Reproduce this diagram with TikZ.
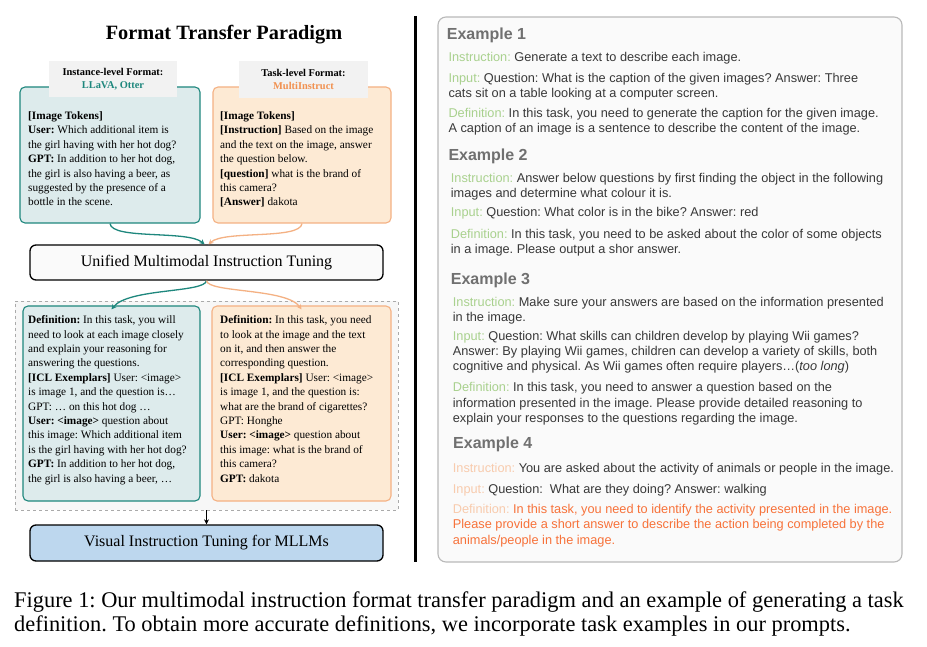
\documentclass[tikz,border=0pt]{standalone}
\usepackage{fontspec}
\setmainfont{Liberation Serif}
\newfontfamily\arialf{Liberation Sans}
\usetikzlibrary{arrows.meta}
\frenchspacing
\definecolor{tealc}{RGB}{30,135,125}
\definecolor{tealfill}{RGB}{221,235,236}
\definecolor{orgc}{RGB}{244,177,131}
\definecolor{orgfill}{RGB}{253,234,212}
\definecolor{orgtext}{RGB}{241,145,80}
\definecolor{headgray}{RGB}{242,242,242}
\definecolor{bluefill}{RGB}{189,215,238}
\definecolor{unifill}{RGB}{250,250,250}
\definecolor{dashgray}{RGB}{170,170,170}
\definecolor{dashfill}{RGB}{247,247,247}
\definecolor{panelc}{RGB}{185,185,185}
\definecolor{panelfill}{RGB}{250,250,250}
\definecolor{headc}{RGB}{112,112,112}
\definecolor{bodyc}{RGB}{56,56,56}
\definecolor{lgreen}{RGB}{169,209,142}
\definecolor{peach}{RGB}{248,203,173}
\definecolor{defor}{RGB}{247,114,58}
\newcommand\labg[1]{\textcolor{lgreen}{#1}}
\newcommand\labp[1]{\textcolor{peach}{#1}}
\begin{document}
\begin{tikzpicture}[x=1pt,y=-1pt,
  tealbox/.style={draw=tealc,fill=tealfill,line width=1.1pt,rounded corners=5pt,inner sep=0pt},
  orgbox/.style={draw=orgc,fill=orgfill,line width=1.1pt,rounded corners=5pt,inner sep=0pt},
  headbox/.style={fill=headgray,inner sep=0pt,align=center,font=\fontsize{10.4}{13.5}\selectfont\bfseries},
  bigbox/.style={draw=black,line width=1.3pt,rounded corners=6pt,inner sep=0pt,font=\fontsize{16}{18}\selectfont},
  ltxt/.style={anchor=north west,inner sep=0pt,align=left,font=\fontsize{11.3}{14.4}\selectfont},
  rtxt/.style={anchor=base west,inner sep=0pt,text=bodyc,font=\arialf\fontsize{12.75}{14}\selectfont},
  rhead/.style={anchor=base west,inner sep=0pt,text=headc,font=\arialf\bfseries\fontsize{16}{18}\selectfont},
  captxt/.style={anchor=base west,inner sep=0pt,font=\fontsize{22.4}{24}\selectfont},
  tealarr/.style={draw=tealc,line width=1.3pt,-{Stealth[length=5pt,width=5pt]}},
  orgarr/.style={draw=orgc,line width=1.3pt,-{Stealth[length=5pt,width=5pt]}},
  blkarr/.style={draw=black,line width=1pt,-{Stealth[length=5pt,width=5pt]}}]
\useasboundingbox (0,0) rectangle (927,647);
\fill[white] (0,0) rectangle (927,647);

% ---------- left side ----------
\node[font=\fontsize{20.3}{22}\selectfont\bfseries] (title) at (224,35) {Format Transfer Paradigm};

\node[tealbox,minimum width=180pt,minimum height=136pt] (tb1) at (110,155) {};
\node[orgbox,minimum width=178pt,minimum height=136pt] (ob1) at (302,155) {};
\node[headbox,minimum width=128pt,minimum height=36pt] (h1) at (113,79) {Instance-level Format:\\\textcolor{tealc}{LLaVA, Otter}};
\node[headbox,minimum width=129pt,minimum height=37pt] (h2) at (303.5,79.5) {Task-level Format:\\\textcolor{orgtext}{MultiInstruct}};

\node[ltxt] (t1) at (28,111.5) {\textbf{[Image Tokens]}\\
\textbf{User:} Which additional item is\\
the girl having with her hot dog?\\
\textbf{GPT:} In addition to her hot dog,\\
the girl is also having a beer, as\\
suggested by the presence of a\\
bottle in the scene.};

\node[ltxt] (t2) at (220,111.5) {\textbf{[Image Tokens]}\\
\textbf{[Instruction]} Based on the image\\
and the text on the image, answer\\
the question below.\\
\textbf{[question]} what is the brand of\\
this camera?\\
\textbf{[Answer]} dakota};

\node[bigbox,fill=unifill,minimum width=353pt,minimum height=35pt] (uni) at (206.5,262.5) {Unified Multimodal Instruction Tuning};

\draw[tealarr] (tb1.south) .. controls (112,240) and (188,230) .. ([xshift=-2pt]uni.north);
\draw[orgarr] (ob1.south) .. controls (300,240) and (224,230) .. ([xshift=2pt]uni.north);

\node[draw=dashgray,dashed,fill=dashfill,line width=0.8pt,minimum width=383pt,minimum height=209pt,inner sep=0pt] (dash) at (206.5,405.5) {};
\node[tealbox,minimum width=177pt,minimum height=195pt] (tb2) at (111.5,403.5) {};
\node[orgbox,minimum width=179pt,minimum height=195pt] (ob2) at (301.5,403.5) {};

\coordinate (tb2in) at ([yshift=-4pt]tb2.north);
\coordinate (ob2in) at ([yshift=-4pt]ob2.north);
\draw[tealarr] (uni.south) .. controls (205,293) and (128,288) .. (tb2in);
\draw[orgarr] (uni.south) .. controls (208,293) and (287,288) .. (ob2in);

\node[ltxt] (t3) at (28,315.5) {\textbf{Definition:} In this task, you will\\
need to look at each image closely\\
and explain your reasoning for\\
answering the questions.\\
\textbf{[ICL Exemplars]} User: <image>\\
is image 1, and the question is…\\
GPT: … on this hot dog …\\
\textbf{User: <image>} question about\\
this image: Which additional item\\
is the girl having with her hot dog?\\
\textbf{GPT:} In addition to her hot dog,\\
the girl is also having a beer, …};

\node[ltxt] (t4) at (220,315.5) {\textbf{Definition:} In this task, you need\\
to look at the image and the text\\
on it, and then answer the\\
corresponding question.\\
\textbf{[ICL Exemplars]} User: <image>\\
is image 1, and the question is:\\
what are the brand of cigarettes?\\
GPT: Honghe\\
\textbf{User: <image>} question about\\
this image: what is the brand of\\
this camera?\\
\textbf{GPT:} dakota};

\node[bigbox,fill=bluefill,minimum width=353pt,minimum height=36pt] (vis) at (206.5,543) {Visual Instruction Tuning for MLLMs};
\draw[blkarr] (dash.south) -- (vis.north);

% divider
\coordinate (divtop) at (415,16);
\coordinate (divbot) at (415,562);
\draw[line width=3pt] (divtop) -- (divbot);

% ---------- right panel ----------
\node[draw=panelc,fill=panelfill,line width=1.1pt,rounded corners=8pt,minimum width=464pt,minimum height=545pt,inner sep=0pt] (panel) at (670,289.5) {};

\node[rhead] (e1) at (446.7,39.5) {Example 1};
\node[rtxt] (e1a) at (448.3,61.5) {\labg{Instruction:} Generate a text to describe each image.};
\node[rtxt] (e1b) at (448.3,82.5) {\labg{Input:} Question: What is the caption of the given images? Answer: Three};
\node[rtxt] (e1c) at (448.3,97.5) {cats sit on a table looking at a computer screen.};
\node[rtxt] (e1d) at (448.3,117.5) {\labg{Definition:} In this task, you need to generate the caption for the given image.};
\node[rtxt] (e1e) at (448.3,132.5) {A caption of an image is a sentence to describe the content of the image.};

\node[rhead] (e2) at (448.3,160.5) {Example 2};
\node[rtxt] (e2a) at (450.7,182.5) {\labg{Instruction:} Answer below questions by first finding the object in the following};
\node[rtxt] (e2b) at (450.7,197.5) {images and determine what colour it is.};
\node[rtxt] (e2c) at (450.7,216.5) {\labg{Input:} Question: What color is in the bike? Answer: red};
\node[rtxt] (e2d) at (450.7,238.5) {\labg{Definition:} In this task, you need to be asked about the color of some objects};
\node[rtxt] (e2e) at (450.7,253.5) {in a image. Please output a shor answer.};

\node[rhead] (e3) at (450.7,284) {Example 3};
\node[rtxt] (e3a) at (452.7,306) {\labg{Instruction:} Make sure your answers are based on the information presented};
\node[rtxt] (e3b) at (452.7,321) {in the image.};
\node[rtxt] (e3c) at (452.7,340) {\labg{Input:} Question: What skills can children develop by playing Wii games?};
\node[rtxt] (e3d) at (452.7,355) {Answer: By playing Wii games, children can develop a variety of skills, both};
\node[rtxt] (e3e) at (452.7,370) {cognitive and physical. As Wii games often require players…(\textit{too long})};
\node[rtxt] (e3f) at (452.7,391) {\labg{Definition:} In this task, you need to answer a question based on the};
\node[rtxt] (e3g) at (452.7,407) {information presented in the image. Please provide detailed reasoning to};
\node[rtxt] (e3h) at (452.7,422) {explain your responses to the questions regarding the image.};

\node[rhead] (e4) at (453,448.5) {Example 4};
\node[rtxt] (e4a) at (452.7,472) {\labp{Instruction:} You are asked about the activity of animals or people in the image.};
\node[rtxt] (e4b) at (452.7,493) {\labp{Input:} Question:\ \ What are they doing? Answer: walking};
\node[rtxt,text=defor] (e4c) at (452.7,513) {\labp{Definition:} In this task, you need to identify the activity presented in the image.};
\node[rtxt,text=defor] (e4d) at (452.7,528) {Please provide a short answer to describe the action being completed by the};
\node[rtxt,text=defor] (e4e) at (452.7,544) {animals/people in the image.};

% ---------- caption ----------
\node[captxt] (cap1) at (14,607) {Figure 1: Our multimodal instruction format transfer paradigm and an example of generating a task};
\node[captxt] (cap2) at (14,631) {definition. To obtain more accurate definitions, we incorporate task examples in our prompts.};
\end{tikzpicture}
\end{document}
